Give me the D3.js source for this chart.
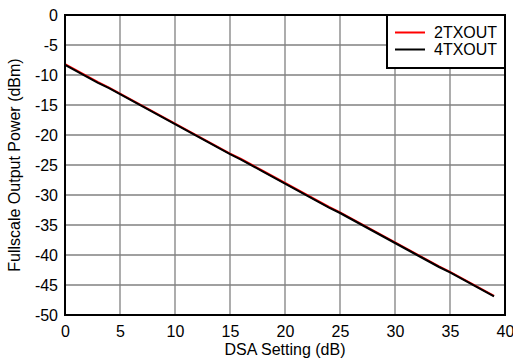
<!DOCTYPE html>
<html><head><meta charset="utf-8">
<script src="https://cdn.jsdelivr.net/npm/d3@7"></script>
<style>body{margin:0;background:#fff}svg{display:block}text{font-family:"Liberation Sans",Arial,sans-serif;fill:#000}</style>
</head><body>
<svg id="c" width="513" height="360"></svg>
<script>
const dsa = [0,1,2,3,4,5,6,7,8,9,10,11,12,13,14,15,16,17,18,19,20,21,22,23,24,25,26,27,28,29,30,31,32,33,34,35,36,37,38,39];
const tx2 = [-8.2,-9.2,-10.2,-11.2,-12.1,-13.1,-14.1,-15.1,-16.1,-17.1,-18.1,-19.1,-20.1,-21.1,-22.1,-23.1,-24.0,-25.0,-26.0,-27.0,-28.0,-29.0,-30.0,-31.0,-32.0,-32.9,-33.9,-34.9,-35.9,-36.9,-37.9,-38.9,-39.9,-40.9,-41.9,-42.8,-43.8,-44.8,-45.8,-46.8];
const tx4 = [-8.3,-9.3,-10.3,-11.3,-12.2,-13.2,-14.2,-15.2,-16.2,-17.2,-18.2,-19.2,-20.2,-21.2,-22.2,-23.2,-24.1,-25.1,-26.1,-27.1,-28.1,-29.1,-30.1,-31.1,-32.1,-33.0,-34.0,-35.0,-36.0,-37.0,-38.0,-39.0,-40.0,-41.0,-42.0,-42.9,-43.9,-44.9,-45.9,-46.9];
const xTicks = [0,5,10,15,20,25,30,35,40];
const yTicks = [0,-5,-10,-15,-20,-25,-30,-35,-40,-45,-50];
const seriesNames = ["2TXOUT","4TXOUT"];
const seriesColors = ["#ff0000","#000000"];

const svg = d3.select("#c");
const L=65,R=505,T=15,B=315;
const FS = 16;
const x = d3.scaleLinear().domain([0,40]).range([L,R]);
const y = d3.scaleLinear().domain([-50,0]).range([B,T]);

// grid
const g = svg.append("g");
g.selectAll(".vg").data(xTicks.slice(1,-1)).join("line")
  .attr("x1",d=>x(d)).attr("x2",d=>x(d)).attr("y1",T).attr("y2",B)
  .attr("stroke","#808080").attr("stroke-width",1.3);
g.selectAll(".hg").data(yTicks.slice(1,-1)).join("line")
  .attr("y1",d=>y(d)).attr("y2",d=>y(d)).attr("x1",L).attr("x2",R)
  .attr("stroke","#808080").attr("stroke-width",1.3);

// axes labels
const fmt = d => String(d);
const xa = svg.append("g").attr("transform",`translate(0,${B})`)
  .call(d3.axisBottom(x).tickValues(xTicks).tickSize(0).tickPadding(11).tickFormat(fmt));
xa.select(".domain").remove();
xa.selectAll("text").attr("font-size",FS).attr("font-family","Liberation Sans, Arial, sans-serif").attr("fill","#000");
const ya = svg.append("g").attr("transform",`translate(${L},0)`)
  .call(d3.axisLeft(y).tickValues(yTicks).tickSize(0).tickPadding(7).tickFormat(fmt));
ya.select(".domain").remove();
ya.selectAll("text").attr("font-size",FS).attr("font-family","Liberation Sans, Arial, sans-serif").attr("fill","#000");

// lines: red beneath, black on top
const data = [tx2, tx4];
const line = d3.line().x((d,i)=>x(dsa[i])).y(d=>y(d));
[0,1].forEach(k=>{
  svg.append("path").datum(data[k]).attr("d",line).attr("fill","none")
    .attr("stroke",seriesColors[k]).attr("stroke-width",2);
});

// frame
svg.append("rect").attr("x",L).attr("y",T).attr("width",R-L).attr("height",B-T)
  .attr("fill","none").attr("stroke","#000").attr("stroke-width",2);

// legend
const lg = svg.append("g");
lg.append("rect").attr("x",387).attr("y",T).attr("width",R-387).attr("height",68-T)
  .attr("fill","#fff").attr("stroke","#000").attr("stroke-width",2);
seriesNames.forEach((n,i)=>{
  const yy = 32.5 + i*17;
  lg.append("line").attr("x1",395).attr("x2",425).attr("y1",yy).attr("y2",yy)
    .attr("stroke",seriesColors[i]).attr("stroke-width",2);
  lg.append("text").attr("x",434).attr("y",yy+5.5).attr("font-size",FS).text(n);
});

// titles
svg.append("text").attr("x",(L+R)/2).attr("y",355).attr("text-anchor","middle").attr("font-size",FS).text("DSA Setting (dB)");
svg.append("text").attr("transform",`translate(20,${(T+B)/2}) rotate(-90)`).attr("text-anchor","middle").attr("font-size",FS).text("Fullscale Output Power (dBm)");
</script>
</body></html>
